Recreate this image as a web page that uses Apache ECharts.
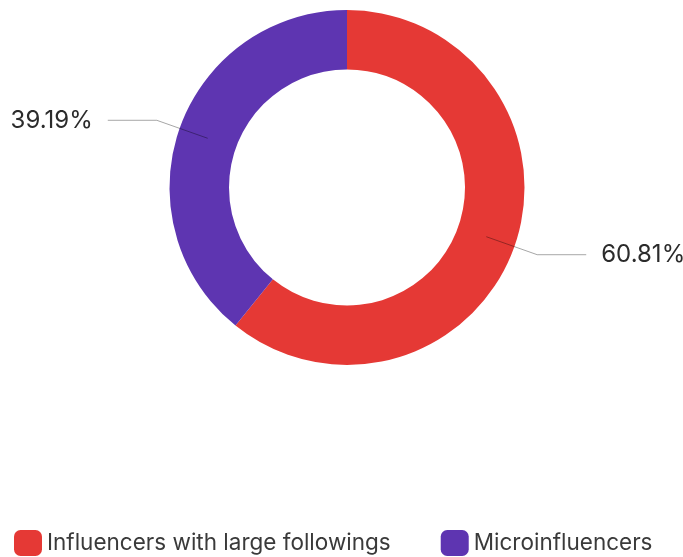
<!DOCTYPE html>
<html>
<head>
<meta charset="utf-8">
<script src="https://cdn.jsdelivr.net/npm/echarts@6/dist/echarts.min.js"></script>
<style>
html,body{margin:0;padding:0;background:#fff;}
#chart{width:683px;height:557px;}
</style>
</head>
<body>
<div id="chart"></div>
<script>
const categories = ['Influencers with large followings', 'Microinfluencers'];
const values = [60.81, 39.19];
const colors = ['#E53935', '#5E35B1'];

const FONT = 'Inter';
const chart = echarts.init(document.getElementById('chart'), null, {renderer: 'canvas'});
const pieData = categories.map((c, i) => ({name: c, value: values[i], itemStyle: {color: colors[i]}}));

chart.setOption({
  animation: false,
  backgroundColor: '#fff',
  legend: {
    data: categories.map((c, i) => ({name: c, itemStyle: {color: colors[i]}})),
    left: 14,
    top: 530,
    padding: 0,
    itemWidth: 28,
    itemHeight: 26,
    itemGap: 50,
    icon: 'roundRect',
    textStyle: {fontFamily: FONT, fontSize: 22.5, color: '#3a3a3a'}
  },
  series: [
    {
      type: 'pie',
      z: 1,
      center: [347, 187.5],
      radius: [118, 177.5],
      startAngle: 90,
      clockwise: true,
      silent: true,
      avoidLabelOverlap: false,
      label: {show: false},
      labelLine: {show: false},
      data: pieData
    },
    {
      type: 'pie',
      z: 5,
      center: [347, 187.5],
      radius: [0, 147.75],
      startAngle: 90,
      clockwise: true,
      silent: true,
      avoidLabelOverlap: false,
      itemStyle: {color: 'rgba(0,0,0,0)'},
      label: {
        show: true,
        position: 'outside',
        formatter: p => p.value.toFixed(2) + '%',
        fontFamily: FONT,
        fontSize: 24,
        color: '#2b2b2b',
        distanceToLabelLine: 15
      },
      labelLine: {
        show: true,
        length: 54,
        length2: 49,
        lineStyle: {color: 'rgba(0,0,0,0.35)', width: 1}
      },
      data: categories.map((c, i) => ({name: c, value: values[i]}))
    }
  ]
});
</script>
</body>
</html>
